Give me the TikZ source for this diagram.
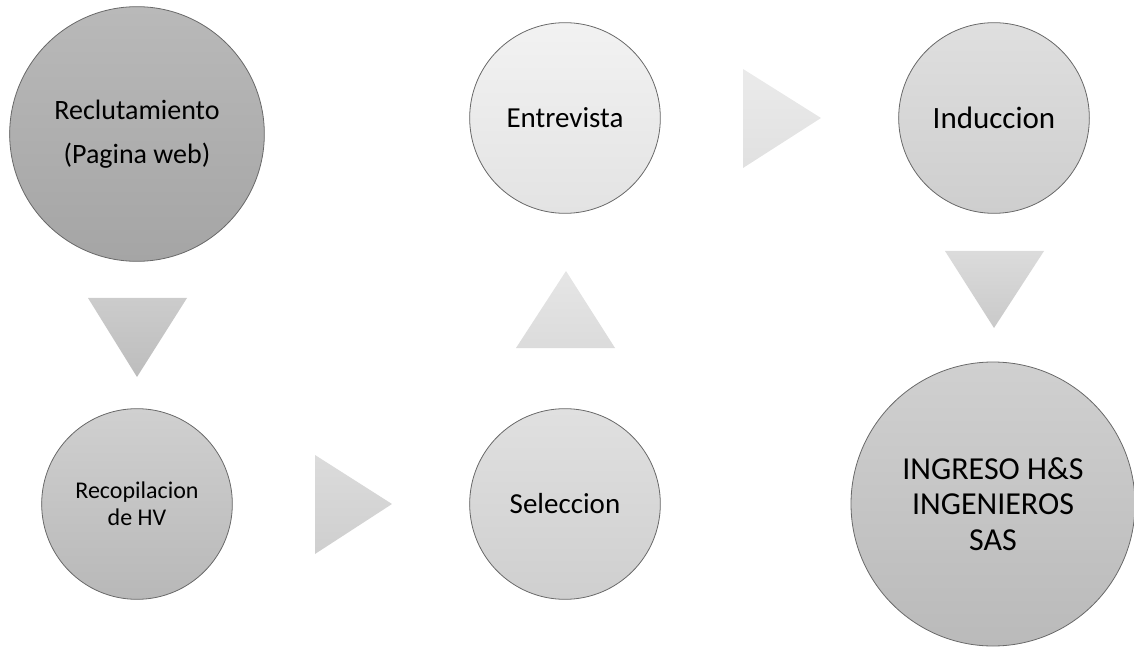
\documentclass[tikz,border=0pt]{standalone}
\usepackage{fontspec}
\setmainfont{Carlito}
\usepackage{xcolor}
\usepackage{tikz}

\definecolor{circleborder}{RGB}{105,105,105}
\definecolor{recluTop}{RGB}{185,185,185}
\definecolor{recluBot}{RGB}{165,165,165}
\definecolor{recopTop}{RGB}{208,208,208}
\definecolor{recopBot}{RGB}{184,184,184}
\definecolor{selecTop}{RGB}{224,224,224}
\definecolor{selecBot}{RGB}{207,207,207}
\definecolor{entreTop}{RGB}{242,242,242}
\definecolor{entreBot}{RGB}{227,227,227}
\definecolor{inducTop}{RGB}{223,223,223}
\definecolor{inducBot}{RGB}{206,206,206}
\definecolor{ingreTop}{RGB}{208,208,208}
\definecolor{ingreBot}{RGB}{186,186,186}

\begin{document}
\begin{tikzpicture}[x=0.75pt, y=-0.75pt]
		\tikzstyle{stagecircle}=[circle, draw=circleborder, line width=0.6pt, inner sep=0pt, align=center, text=black]
		\tikzstyle{smallstage}=[stagecircle, minimum size=143pt]
		
		\useasboundingbox (0,0) rectangle (1134,648);
		
		\node (rec) at (137,134) [stagecircle, minimum size=191pt, top color=recluTop, bottom color=recluBot, font=\fontsize{21}{33}\selectfont] {Reclutamiento\\(Pagina web)};
		\node (hv) at (137,504) [smallstage, top color=recopTop, bottom color=recopBot, font=\fontsize{18}{20}\selectfont] {Recopilacion\\de HV};
		\node (sel) at (565,504) [smallstage, top color=selecTop, bottom color=selecBot, font=\fontsize{21.75}{26}\selectfont] {Seleccion};
		\node (ent) at (565,118) [smallstage, top color=entreTop, bottom color=entreBot, font=\fontsize{21.75}{26}\selectfont] {Entrevista};
		\node (ind) at (994,118) [smallstage, top color=inducTop, bottom color=inducBot, font=\fontsize{23.25}{28}\selectfont] {Induccion};
		\node (ing) at (993,504) [stagecircle, minimum size=213pt, top color=ingreTop, bottom color=ingreBot, font=\fontsize{24}{26.5}\selectfont] {INGRESO H\&S\\INGENIEROS\\SAS};
		
		% flechas entre etapas
		\shade [top color=black!20, bottom color=black!26] (88,298) -- (187,298) -- (137,377) -- cycle;
		\shade [top color=black!14, bottom color=black!19] (315,455) -- (392,504) -- (315,554) -- cycle;
		\shade [top color=black!10, bottom color=black!14] (566,271) -- (615,348) -- (516,348) -- cycle;
		\shade [top color=black!8, bottom color=black!12] (743,69) -- (821,118) -- (743,168) -- cycle;
		\shade [top color=black!14, bottom color=black!21] (945,251) -- (1044,251) -- (994,328) -- cycle;
\end{tikzpicture}
\end{document}
